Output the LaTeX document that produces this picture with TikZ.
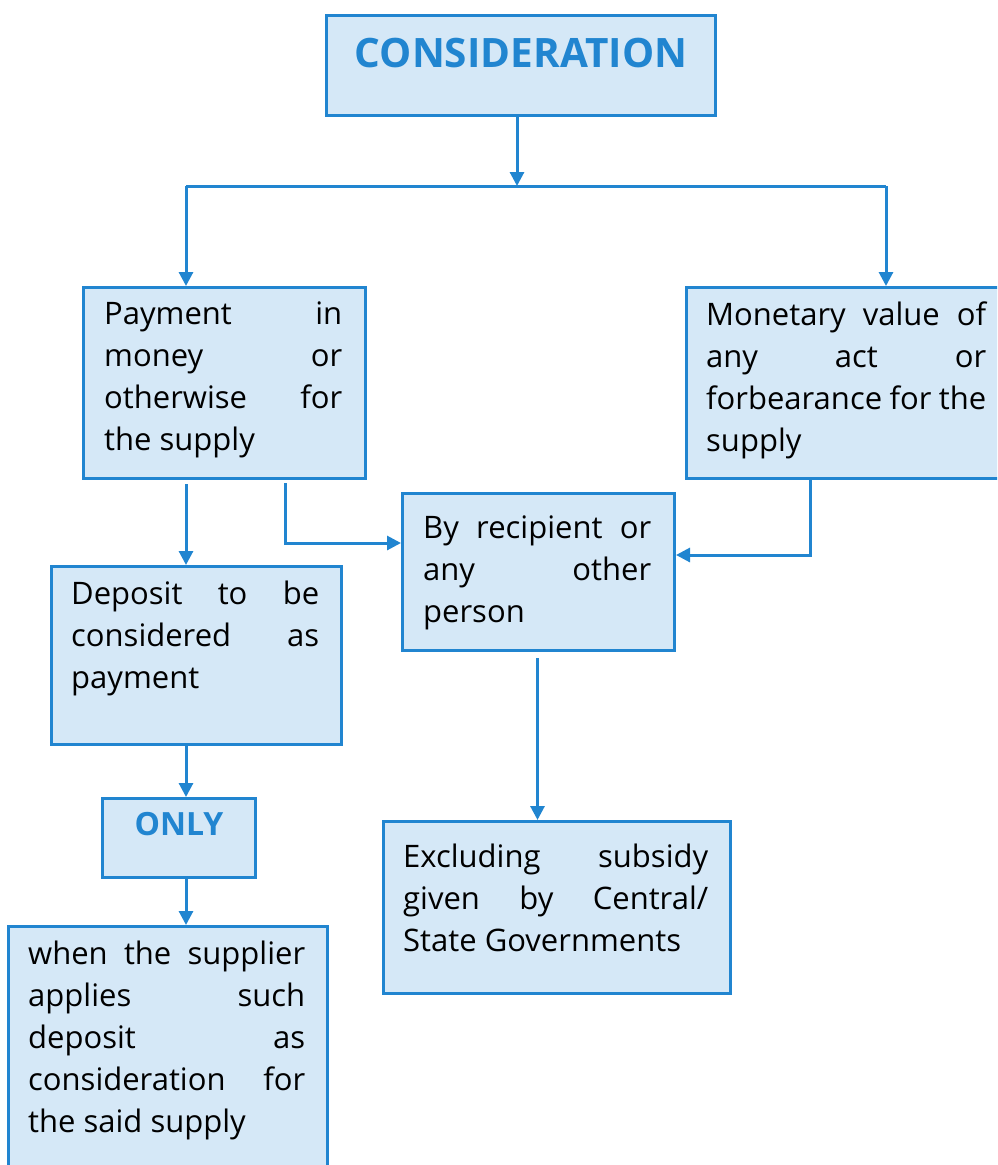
\documentclass[tikz,border=0pt]{standalone}
\usepackage{fontspec}
\setmainfont{Open Sans}
\usetikzlibrary{arrows.meta}

\definecolor{cblue}{RGB}{33,133,208}
\definecolor{cfill}{RGB}{213,232,247}
\tolerance=10000
\hbadness=10000

\tikzset{
  box/.style={draw=cblue, fill=cfill, line width=3pt, anchor=north west, inner sep=0pt},
  txt/.style={anchor=north west, inner xsep=22pt, inner ysep=16pt, align=justify, font=\fontsize{31}{42}\selectfont},
  head/.style={anchor=north, inner ysep=24pt, text=cblue, font=\fontsize{40.5}{50}\selectfont\bfseries},
  line/.style={draw=cblue, line width=3pt},
  arrow/.style={line, -{Triangle[length=14pt,width=14pt]}},
}

\begin{document}
\begin{tikzpicture}[x=1pt,y=-1pt]

\useasboundingbox (0,0) rectangle (997,1165);
\clip (0,0) rectangle (997,1165);

% boxes
\node[box, minimum width=389pt, minimum height=100pt,
  label={[head]north:{CONSIDERATION}}] (cons) at (325,14) {};
\node[box, minimum width=282pt, minimum height=191pt,
  label={[txt, text width=238pt]north west:{Payment in\linebreak money or\linebreak otherwise for\linebreak the supply}}] (pay) at (82,286) {};
\node[box, minimum width=330pt, minimum height=191pt,
  label={[txt, inner xsep=21pt, text width=280pt]north west:{Monetary value of\linebreak any act or\linebreak forbearance for the\linebreak supply}}] (mon) at (685,286) {};
\node[box, minimum width=272pt, minimum height=157pt,
  label={[txt, inner ysep=24pt, text width=228pt]north west:{By recipient or\linebreak any other\linebreak person}}] (rec) at (401,492) {};
\node[box, minimum width=290pt, minimum height=178pt,
  label={[txt, inner xsep=21pt, text width=248pt]north west:{Deposit to be\linebreak considered as\linebreak payment}}] (dep) at (50,565) {};
\node[box, minimum width=153pt, minimum height=79pt,
  label={[head, inner ysep=15pt, font=\fontsize{32}{40}\selectfont\bfseries]north:{ONLY}}] (only) at (101,797) {};
\node[box, minimum width=319pt, minimum height=260pt,
  label={[txt, inner xsep=21pt, text width=277pt]north west:{when the supplier\linebreak applies such\linebreak deposit as\linebreak consideration for\linebreak the said supply}}] (when) at (7,925) {};
\node[box, minimum width=347pt, minimum height=172pt,
  label={[txt, inner xsep=21pt, inner ysep=24pt, text width=305pt]north west:{Excluding subsidy\linebreak given by Central/\linebreak State Governments}}] (excl) at (382,820) {};

% connectors
\coordinate (jn) at (517,186);
\coordinate (jl) at (186,186);
\coordinate (jr) at (886,186);
\coordinate (p1) at (285,543);
\coordinate (m1) at (810,555);

\draw[arrow] (cons.south -| jn) -- (jn);
\draw[line] (jl) -- (jr);
\draw[arrow] (jl) -- (jl |- pay.north);
\draw[arrow] (jr) -- (jr |- mon.north);
\draw[arrow] ([yshift=-4pt]jl |- pay.south) -- (jl |- dep.north);
\draw[arrow] ([yshift=-3pt]p1 |- pay.south) -- (p1) -- (p1 -| rec.west);
\draw[arrow] (m1 |- mon.south) -- (m1) -- (m1 -| rec.east);
\draw[arrow] (jl |- dep.south) -- (jl |- only.north);
\draw[arrow] (jl |- only.south) -- (jl |- when.north);
\draw[arrow] ([xshift=-1pt,yshift=-6pt]rec.south) -- ([xshift=-1pt]rec.south |- excl.north);

\end{tikzpicture}
\end{document}
